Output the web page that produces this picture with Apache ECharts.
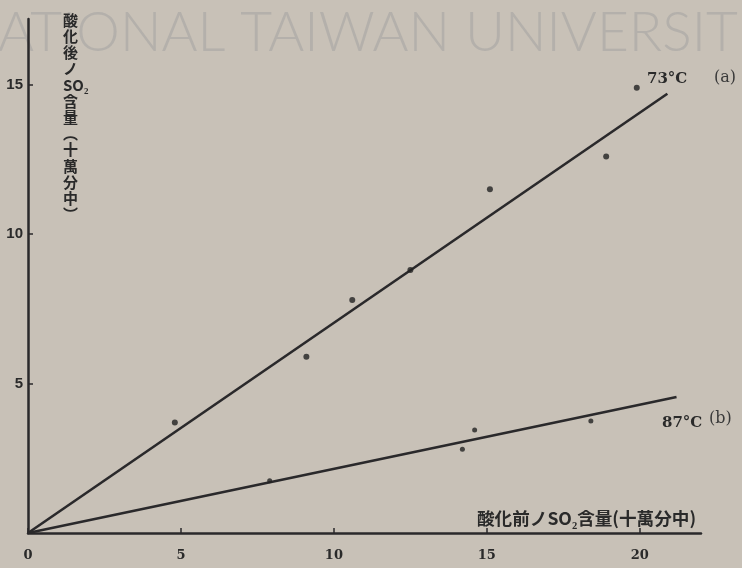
<!DOCTYPE html>
<html><head><meta charset="utf-8">
<script src="https://cdn.jsdelivr.net/npm/echarts@6/dist/echarts.min.js"></script>
<style>html,body{margin:0;padding:0;background:#c8c1b7;}#c{width:742px;height:568px;}</style>
</head><body><div id="c"></div>
<script>
// Data
const xTicks = [0, 5, 10, 15, 20];
const yTicks = [5, 10, 15];
// 73°C (a): measured points
const pointsA = [[4.8, 3.7], [9.1, 5.9], [10.6, 7.8], [12.5, 8.8], [15.1, 11.5], [18.9, 12.6], [19.9, 14.9]];
// 73°C (a): fitted line endpoints
const lineA = [[0, 0], [20.9, 14.7]];
// 87°C (b): measured points
const pointsB = [[7.9, 1.75], [14.2, 2.8], [14.6, 3.45], [18.4, 3.75]];
// 87°C (b): fitted line endpoints
const lineB = [[0, 0], [21.2, 4.55]];
const labelA = ['73°C', '(a)'];
const labelB = ['87°C', '(b)'];
const xName = '酸化前ノSO₂含量(十萬分中)';
const yNameChars = ['酸','化','後','ノ','SO₂','含','量','︵','十','萬','分','中','︶'];
const watermark = 'ATIONAL TAIWAN UNIVERSIT';

const ink = '#2a292b';
const chart = echarts.init(document.getElementById('c'));
chart.setOption({
  backgroundColor: '#c8c1b7',
  animation: false,
  grid: { left: 28, top: 19, width: 673, height: 514 },
  xAxis: {
    type: 'value', min: 0, max: 22,
    axisLine: { show: true, lineStyle: { color: ink, width: 2.5 } },
    axisTick: { show: true, inside: true, length: 5, customValues: xTicks, lineStyle: { color: ink, width: 1.5 } },
    axisLabel: { customValues: xTicks, color: '#2a2a2a', fontFamily: 'DejaVu Serif', fontWeight: 'bold', fontSize: 13, margin: 16 },
    splitLine: { show: false }
  },
  yAxis: {
    type: 'value', min: 0, max: 17.2,
    axisLine: { show: true, lineStyle: { color: ink, width: 2.5 } },
    axisTick: { show: true, inside: true, length: 5, customValues: yTicks, lineStyle: { color: ink, width: 1.5 } },
    axisLabel: { customValues: yTicks, color: '#2a2a2a', fontFamily: 'Liberation Sans', fontWeight: 'bold', fontSize: 15, margin: 5 },
    splitLine: { show: false }
  },
  graphic: [
    { type: 'text', left: -2, top: 6, z: 0, silent: true,
      style: { text: watermark, font: '300 55px Lato', fill: 'rgba(160,160,160,0.5)' } },
    { type: 'text', left: 647, top: 72,
      style: { text: labelA[0], font: 'bold 15px "DejaVu Serif"', fill: '#2a2a2a' } },
    { type: 'text', left: 714, top: 70,
      style: { text: labelA[1], font: '16px "DejaVu Serif"', fill: '#3a3a3a' } },
    { type: 'text', left: 662, top: 416,
      style: { text: labelB[0], font: 'bold 15px "DejaVu Serif"', fill: '#2a2a2a' } },
    { type: 'text', left: 709, top: 411,
      style: { text: labelB[1], font: '16px "DejaVu Serif"', fill: '#3a3a3a' } },
    { type: 'text', left: 477, top: 510,
      style: { text: xName, font: 'bold 17.6px "Noto Sans CJK JP"', fill: '#2a2a2a' } },
    { type: 'text', left: 63, top: 12,
      style: { text: yNameChars.join('\n'), font: 'bold 15px "Noto Sans CJK JP"', lineHeight: 16.2, align: 'center', fill: '#2a2a2a', x: 8 } }
  ],
  series: [
    { type: 'line', data: lineA, symbol: 'none', lineStyle: { color: ink, width: 2.6 }, z: 3 },
    { type: 'line', data: lineB, symbol: 'none', lineStyle: { color: ink, width: 2.6 }, z: 3 },
    { type: 'scatter', data: pointsA, symbolSize: 6, itemStyle: { color: '#222' }, z: 4 },
    { type: 'scatter', data: pointsB, symbolSize: 5, itemStyle: { color: '#222' }, z: 4 }
  ]
});
</script></body></html>
